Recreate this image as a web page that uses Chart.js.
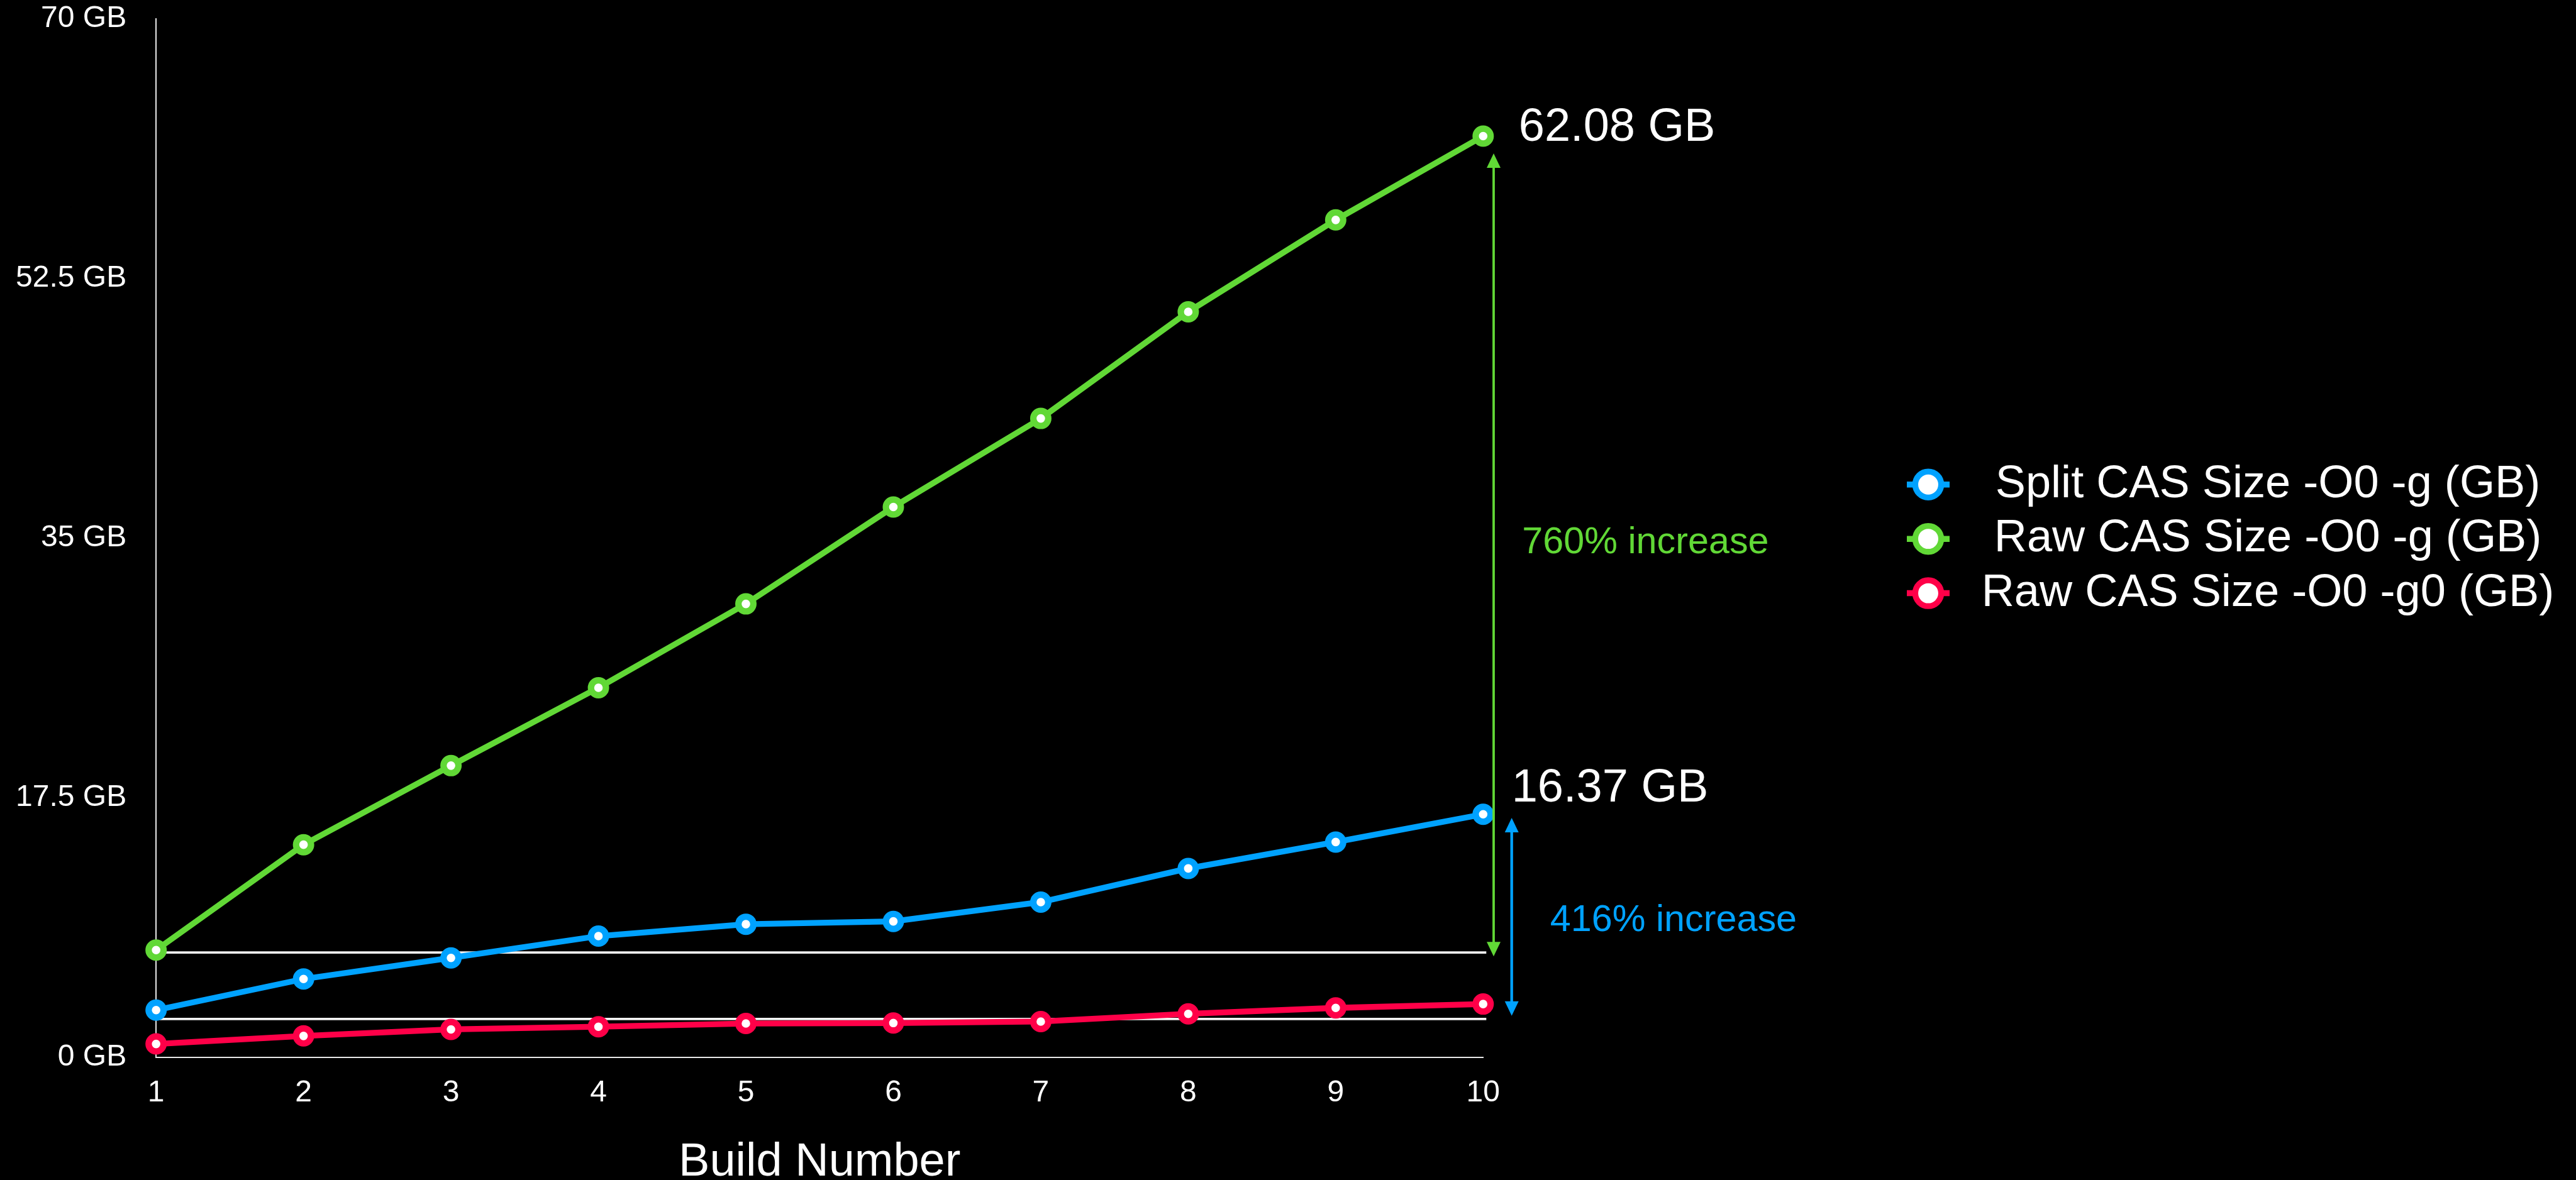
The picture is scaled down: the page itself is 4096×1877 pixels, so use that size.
<!DOCTYPE html>
<html>
<head>
<meta charset="utf-8">
<title>CAS size per build</title>
<script src="https://cdn.jsdelivr.net/npm/chart.js@4.4.1/dist/chart.umd.min.js"></script>
<style>
  html, body { margin: 0; padding: 0; background: #000; overflow: hidden; }
  canvas { display: block; }
</style>
</head>
<body>
<canvas id="chart" width="4096" height="1877"></canvas>
<script>
// ---- data ----
const buildNumbers = ['1', '2', '3', '4', '5', '6', '7', '8', '9', '10'];
const splitCasG  = [3.17, 5.27, 6.69, 8.16, 8.96, 9.15, 10.45, 12.72, 14.5, 16.37];
const rawCasG    = [7.22, 14.32, 19.65, 24.9, 30.55, 37.08, 43.05, 50.24, 56.43, 62.08];
const rawCasG0   = [0.89, 1.43, 1.87, 2.05, 2.27, 2.3, 2.4, 2.92, 3.32, 3.58];
const seriesNames = ['Split CAS Size -O0 -g (GB)', 'Raw CAS Size -O0 -g (GB)', 'Raw CAS Size -O0 -g0 (GB)'];
const yTickValues = [0, 17.5, 35, 52.5, 70];
// white guide lines marking the starting sizes (GB)
const guideLevels = [7.05, 2.57];
// growth arrows: which series, and the GB span they cover
const growthArrows = [
  { series: 1, from: 6.79, to: 60.92 },
  { series: 0, from: 2.79, to: 16.13 }
];

// ---- styles ----
const FONT = "'Liberation Sans', Arial, Helvetica, sans-serif";
const COLORS = ['#00A2FF', '#61D836', '#FF0048'];
const seriesValues = [splitCasG, rawCasG, rawCasG0];

function lineDataset(i) {
  return {
    label: seriesNames[i],
    data: seriesValues[i],
    borderColor: COLORS[i],
    backgroundColor: COLORS[i],
    borderWidth: 9.3,
    tension: 0,
    pointRadius: 11.9,
    pointHoverRadius: 11.9,
    pointBorderWidth: 10.2,
    pointHoverBorderWidth: 10.2,
    pointBackgroundColor: '#ffffff',
    pointBorderColor: COLORS[i],
    clip: false
  };
}

const blackBackground = {
  id: 'blackBackground',
  beforeDraw(chart) {
    const c = chart.ctx;
    c.save();
    c.fillStyle = '#000';
    c.fillRect(0, 0, chart.width, chart.height);
    c.restore();
  }
};

const guideLines = {
  id: 'guideLines',
  beforeDatasetsDraw(chart) {
    const { ctx, chartArea, scales: { x, y } } = chart;
    const xEnd = x.getPixelForValue(buildNumbers.length - 1) + 5;
    ctx.save();
    ctx.strokeStyle = '#f2f2f2';
    ctx.lineWidth = 3.7;
    guideLevels.forEach(v => {
      const py = y.getPixelForValue(v);
      ctx.beginPath();
      ctx.moveTo(chartArea.left, py);
      ctx.lineTo(xEnd, py);
      ctx.stroke();
    });
    ctx.restore();
  }
};

// arrow offsets / label offsets relative to the last build's x position
const arrowStyle = [
  { dx: 16.7, width: 3.8, pctDx: 62, pctDy: -2.8, valDx: 56.5, valDy: 7.4 },
  { dx: 45.4, width: 4.3, pctDx: 106.5, pctDy: 22.2, valDx: 45.4, valDy: -20 }
];

function drawArrow(ctx, x, yTop, yBottom, color, lw) {
  const head = 23, half = 11;
  ctx.strokeStyle = color;
  ctx.fillStyle = color;
  ctx.lineWidth = lw;
  ctx.beginPath();
  ctx.moveTo(x, yTop + head - 2);
  ctx.lineTo(x, yBottom - head + 2);
  ctx.stroke();
  ctx.beginPath();
  ctx.moveTo(x, yTop);
  ctx.lineTo(x - half, yTop + head);
  ctx.lineTo(x + half, yTop + head);
  ctx.closePath();
  ctx.fill();
  ctx.beginPath();
  ctx.moveTo(x, yBottom);
  ctx.lineTo(x - half, yBottom - head);
  ctx.lineTo(x + half, yBottom - head);
  ctx.closePath();
  ctx.fill();
}

const growthNotes = {
  id: 'growthNotes',
  afterDatasetsDraw(chart) {
    const { ctx, scales: { x, y } } = chart;
    const last = buildNumbers.length - 1;
    const xLast = x.getPixelForValue(last);
    ctx.save();
    growthArrows.forEach((a, k) => {
      const st = arrowStyle[k];
      const color = COLORS[a.series];
      const values = seriesValues[a.series];
      const yTop = y.getPixelForValue(a.to);
      const yBottom = y.getPixelForValue(a.from);
      drawArrow(ctx, xLast + st.dx, yTop, yBottom, color, st.width);

      // percentage growth from first to last build
      const pct = Math.round((values[last] / values[0] - 1) * 100);
      ctx.fillStyle = color;
      ctx.font = `59.3px ${FONT}`;
      ctx.textAlign = 'left';
      ctx.textBaseline = 'alphabetic';
      ctx.fillText(`${pct}% increase`, xLast + st.pctDx, (yTop + yBottom) / 2 + st.pctDy);

      // final value label
      ctx.fillStyle = '#ffffff';
      ctx.font = `74px ${FONT}`;
      ctx.fillText(`${values[last].toFixed(2)} GB`, xLast + st.valDx,
        y.getPixelForValue(values[last]) + st.valDy);
    });
    ctx.restore();
  }
};

const sideLegend = {
  id: 'sideLegend',
  afterDraw(chart) {
    const ctx = chart.ctx;
    const markerX = 3066, textX = 3606, rowY = 770.7, rowGap = 86.45;
    ctx.save();
    chart.data.datasets.forEach((ds, i) => {
      const cy = rowY + i * rowGap;
      ctx.strokeStyle = ds.borderColor;
      ctx.lineWidth = 9.5;
      ctx.beginPath();
      ctx.moveTo(markerX - 34, cy);
      ctx.lineTo(markerX + 34, cy);
      ctx.stroke();
      ctx.beginPath();
      ctx.arc(markerX, cy, 20.6, 0, Math.PI * 2);
      ctx.fillStyle = '#ffffff';
      ctx.fill();
      ctx.lineWidth = 9.3;
      ctx.stroke();
      ctx.fillStyle = '#ffffff';
      ctx.font = `72.2px ${FONT}`;
      ctx.textAlign = 'center';
      ctx.textBaseline = 'middle';
      ctx.fillText(ds.label, textX, cy);
    });
    ctx.restore();
  }
};

new Chart(document.getElementById('chart'), {
  type: 'line',
  data: {
    labels: buildNumbers,
    datasets: [lineDataset(0), lineDataset(1), lineDataset(2)]
  },
  options: {
    responsive: false,
    devicePixelRatio: 1,
    animation: false,
    events: [],
    layout: { padding: { top: 29.6, right: 1737.7, bottom: 0, left: 0 } },
    plugins: {
      legend: { display: false },
      tooltip: { enabled: false }
    },
    scales: {
      x: {
        type: 'category',
        offset: false,
        grid: { display: false, drawTicks: false },
        border: { display: true, color: '#e8e8e8', width: 2.1 },
        ticks: {
          color: '#ffffff',
          font: { family: FONT, size: 48 },
          padding: 28,
          maxRotation: 0,
          autoSkip: false
        },
        title: {
          display: true,
          text: 'Build Number',
          color: '#ffffff',
          font: { family: FONT, size: 74, lineHeight: 0.75 },
          padding: { top: 0, bottom: 0 }
        },
        afterFit(scale) {
          scale.height = 195.4;
          scale.paddingLeft = 0;
          scale.paddingRight = 0;
        }
      },
      y: {
        min: 0,
        max: 70,
        afterBuildTicks(scale) { scale.ticks = yTickValues.map(v => ({ value: v })); },
        grid: { display: false, drawTicks: false },
        border: { display: true, color: '#e0e0e0', width: 2.1 },
        ticks: {
          color: '#ffffff',
          font: { family: FONT, size: 48 },
          padding: 47,
          callback: v => `${v} GB`
        },
        afterFit(scale) {
          scale.width = 248.2;
          scale.paddingTop = 0;
          scale.paddingBottom = 0;
        }
      }
    }
  },
  plugins: [blackBackground, guideLines, growthNotes, sideLegend]
});
</script>
</body>
</html>
